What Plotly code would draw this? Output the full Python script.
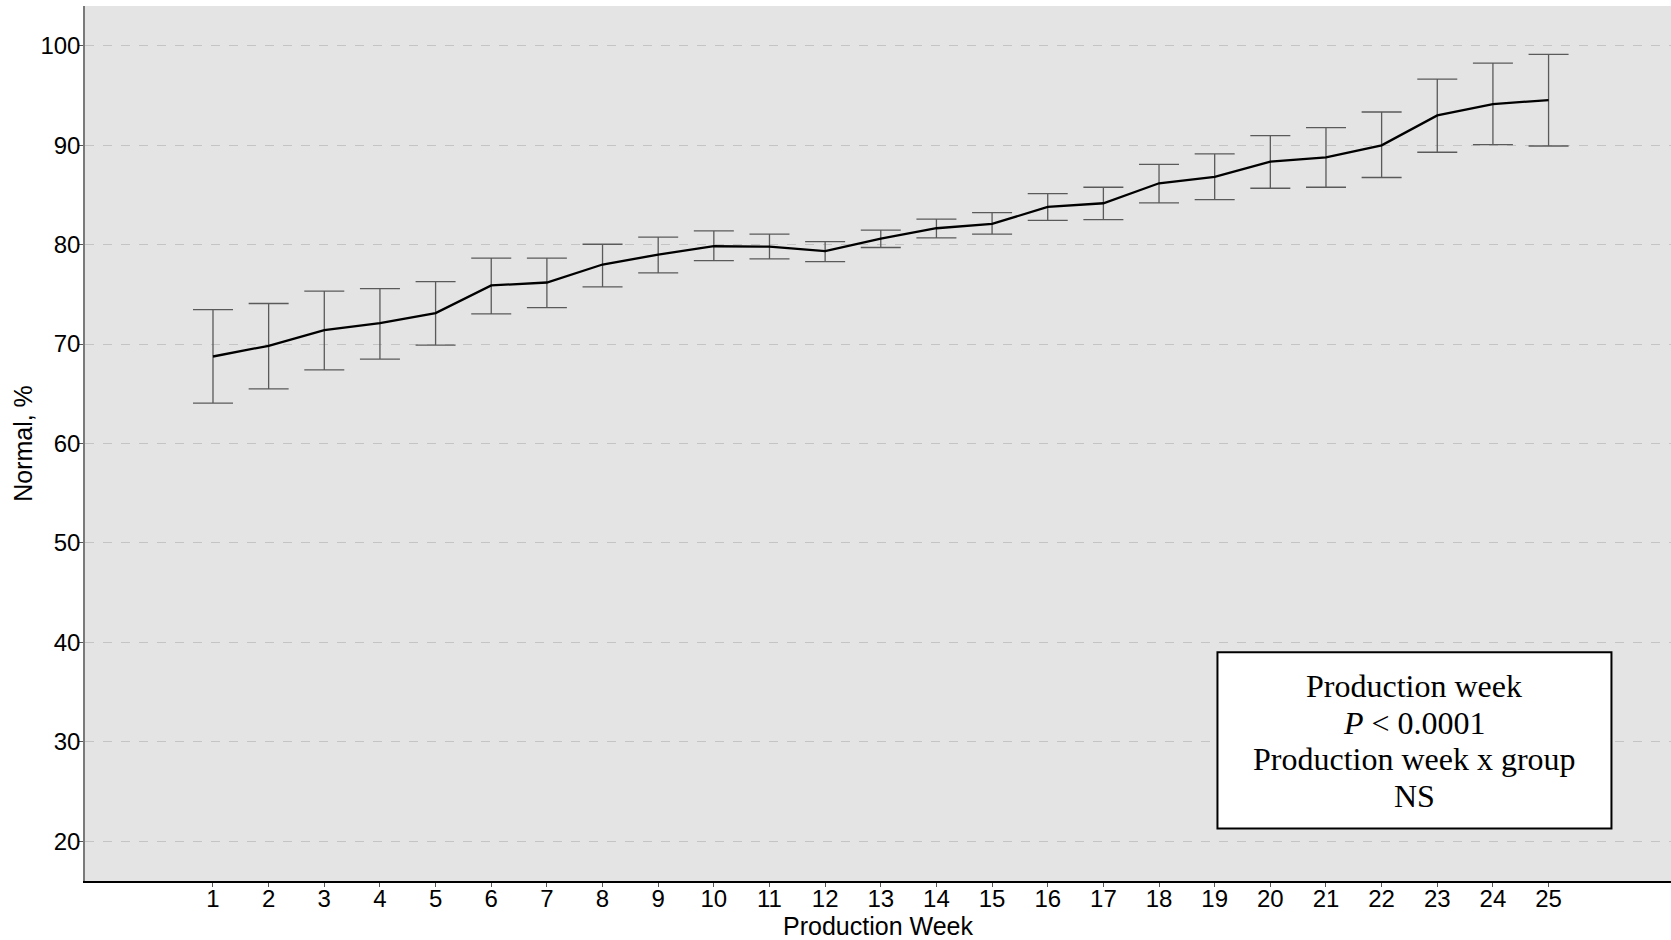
import plotly.graph_objects as go

weeks = list(range(1, 26))
means = [68.75, 69.83, 71.4, 72.1, 73.11, 75.9, 76.19, 78.0, 79.0, 79.84,
         79.8, 79.34, 80.61, 81.65, 82.08, 83.79, 84.16, 86.17, 86.81, 88.34,
         88.78, 89.99, 93.0, 94.14, 94.54]
upper = [73.47, 74.08, 75.32, 75.58, 76.29, 78.64, 78.64, 80.04, 80.75, 81.38,
         81.05, 80.31, 81.45, 82.56, 83.22, 85.13, 85.77, 88.08, 89.12, 90.97,
         91.76, 93.34, 96.65, 98.26, 99.13]
lower = [64.07, 65.5, 67.41, 68.49, 69.89, 73.04, 73.67, 75.75, 77.16, 78.4,
         78.57, 78.3, 79.71, 80.68, 81.05, 82.45, 82.52, 84.19, 84.53, 85.67,
         85.77, 86.75, 89.29, 90.05, 89.92]
y_ticks = [20, 30, 40, 50, 60, 70, 80, 90, 100]
note_lines = ["Production week", "<i>P</i> &lt; 0.0001", "Production week x group", "NS"]
note_y = [35.6, 31.9, 28.25, 24.55]

err_plus = [u - m for u, m in zip(upper, means)]
err_minus = [m - l for m, l in zip(means, lower)]

fig = go.Figure()
fig.add_trace(go.Scatter(
    x=weeks, y=means, mode="lines",
    line=dict(color="black", width=2.3),
    error_y=dict(type="data", symmetric=False, array=err_plus, arrayminus=err_minus,
                 color="#5a5a5a", thickness=1.3, width=20),
    showlegend=False,
))

fig.add_shape(type="rect", xref="x", yref="y", x0=19.05, x1=26.13, y0=21.29, y1=39.0,
              fillcolor="white", line=dict(color="black", width=2), layer="above")
for txt, yy in zip(note_lines, note_y):
    fig.add_annotation(x=22.59, y=yy, xref="x", yref="y", showarrow=False,
                       text=txt, align="center", yanchor="middle",
                       font=dict(family="Liberation Serif", size=32, color="black"))

fig.update_layout(
    width=1671, height=940,
    margin=dict(l=85, r=0, t=6, b=59),
    paper_bgcolor="white", plot_bgcolor="#e4e4e4",
    font=dict(family="Liberation Sans", color="black"),
    xaxis=dict(range=[-1.3, 27.2], tickmode="array", tickvals=weeks,
               ticktext=[str(w) for w in weeks], showgrid=False, zeroline=False,
               showline=True, linecolor="black", linewidth=1.5,
               ticks="outside", ticklen=4, tickcolor="#555",
               ticklabelstandoff=-9,
               tickfont=dict(size=24, color="black"),
               title=dict(text="Production Week", font=dict(size=25), standoff=6)),
    yaxis=dict(range=[16, 104], tickmode="array", tickvals=y_ticks,
               showgrid=True, gridcolor="#c4c4c4", griddash="dash", gridwidth=1,
               zeroline=False, showline=True, linecolor="#7a7a7a", linewidth=1.5,
               ticks="outside", ticklen=4, tickcolor="#555",
               ticklabelstandoff=-6,
               tickfont=dict(size=24, color="black"),
               title=dict(text="Normal, %", font=dict(size=25), standoff=1)),
)

fig.write_html("out.html", config={"displayModeBar": False},
               post_script="document.body.style.margin='0';document.body.style.padding='0';")
